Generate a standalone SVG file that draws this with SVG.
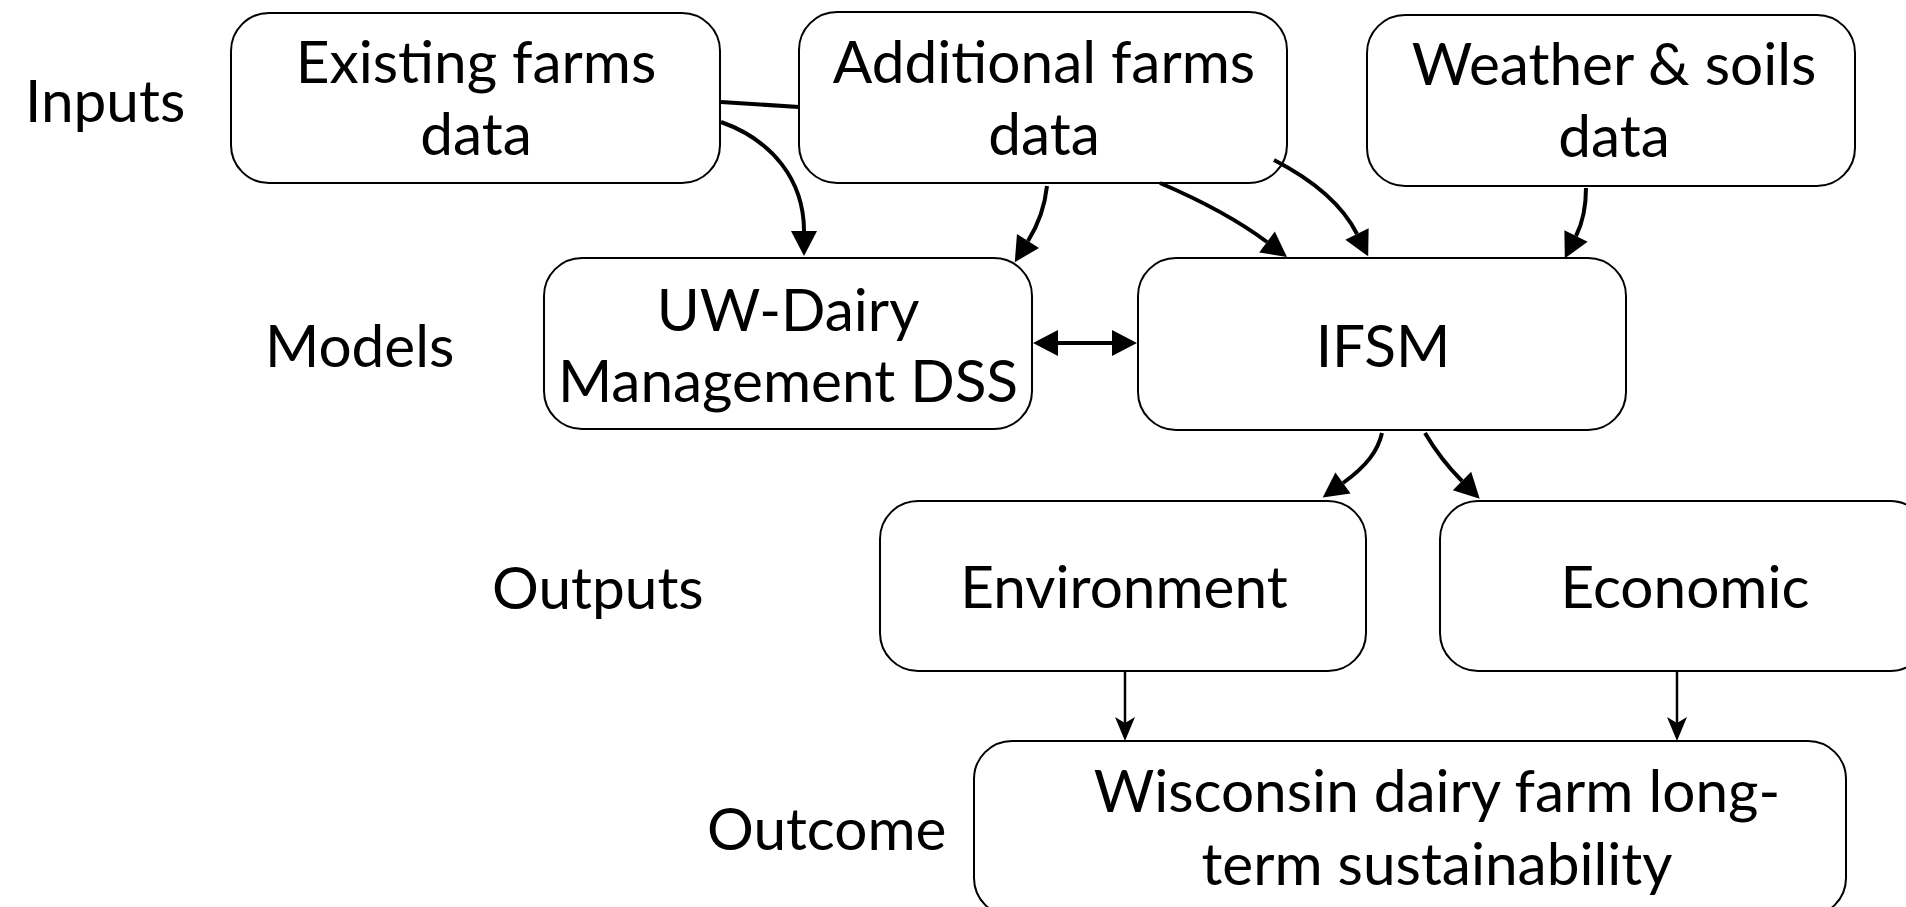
<svg xmlns="http://www.w3.org/2000/svg" width="1906" height="907" viewBox="0 0 1906 907">
<style>
.box{fill:#fff;stroke:#000;stroke-width:2}
text{font-family:Lato,"Liberation Sans",sans-serif;font-size:58.5px;fill:#000}
.c{text-anchor:middle}
.con{fill:none;stroke:#000;stroke-width:4}
.thin{fill:none;stroke:#000;stroke-width:2.5}
</style>
<defs>
<marker id="ah" markerUnits="userSpaceOnUse" viewBox="-1 -14 28 28" refX="0" refY="0" markerWidth="28" markerHeight="28" orient="auto-start-reverse">
<path d="M0,-13 L25,0 L0,13 Z" fill="#000"/>
</marker>
<marker id="th" markerUnits="userSpaceOnUse" viewBox="-1 -12 26 24" refX="6" refY="0" markerWidth="26" markerHeight="24" orient="auto">
<path d="M0,-10 L24,0 L0,10 L6,0 Z" fill="#000"/>
</marker>
</defs>
<rect width="1906" height="907" fill="#fff"/>
<g id="labels">
<text x="25" y="122">Inputs</text>
<text x="265" y="367">Models</text>
<text x="492" y="609">Outputs</text>
<text x="707" y="850">Outcome</text>
</g>
<g id="existing">
<rect class="box" x="231" y="13" width="489" height="170" rx="38"/>
<text class="c" x="476" y="83">Existing farms</text>
<text class="c" x="476" y="155">data</text>
</g>
<g id="additional">
<rect class="box" x="799" y="12" width="488" height="171" rx="38"/>
<text class="c" x="1044" y="83">Additional farms</text>
<text class="c" x="1044" y="155">data</text>
</g>
<g id="weather">
<rect class="box" x="1367" y="15" width="488" height="171" rx="38"/>
<text class="c" x="1614" y="85">Weather &amp; soils</text>
<text class="c" x="1614" y="157">data</text>
</g>
<g id="uwdairy">
<rect class="box" x="544" y="258" width="488" height="171" rx="38"/>
<text class="c" x="788" y="331">UW-Dairy</text>
<text class="c" x="788" y="402">Management DSS</text>
</g>
<g id="ifsm">
<rect class="box" x="1138" y="258" width="488" height="172" rx="38"/>
<text class="c" x="1383" y="367">IFSM</text>
</g>
<g id="environment">
<rect class="box" x="880" y="501" width="486" height="170" rx="38"/>
<text class="c" x="1124" y="608">Environment</text>
</g>
<g id="economic">
<rect class="box" x="1440" y="501" width="488" height="170" rx="38"/>
<text class="c" x="1685" y="608">Economic</text>
</g>
<g id="outcome">
<rect class="box" x="974" y="741" width="872" height="175" rx="38"/>
<text class="c" x="1437" y="812">Wisconsin dairy farm long-</text>
<text class="c" x="1437" y="885">term sustainability</text>
</g>
<g id="connectors">
<path class="con" d="M721 102 L799 107"/>
<path class="con" marker-end="url(#ah)" d="M721 122 C772 140 804 180 804 231"/>
<path class="con" marker-end="url(#ah)" d="M1047 186 C1045 205 1038 225 1028 241"/>
<path class="con" marker-end="url(#ah)" d="M1160 183 C1195 198 1235 218 1267 242"/>
<path class="con" marker-end="url(#ah)" d="M1274 160 C1307 177 1340 200 1357 234"/>
<path class="con" marker-end="url(#ah)" d="M1586 188 C1586 205 1583 222 1576 236"/>
<path class="con" marker-start="url(#ah)" marker-end="url(#ah)" d="M1058 343 L1112 343"/>
<path class="con" marker-end="url(#ah)" d="M1382 433 C1378 450 1368 465 1343 483"/>
<path class="con" marker-end="url(#ah)" d="M1425 433 C1435 450 1448 467 1462 481"/>
<path class="thin" marker-end="url(#th)" d="M1125 672 L1125 723"/>
<path class="thin" marker-end="url(#th)" d="M1677 672 L1677 723"/>
</g>
</svg>
